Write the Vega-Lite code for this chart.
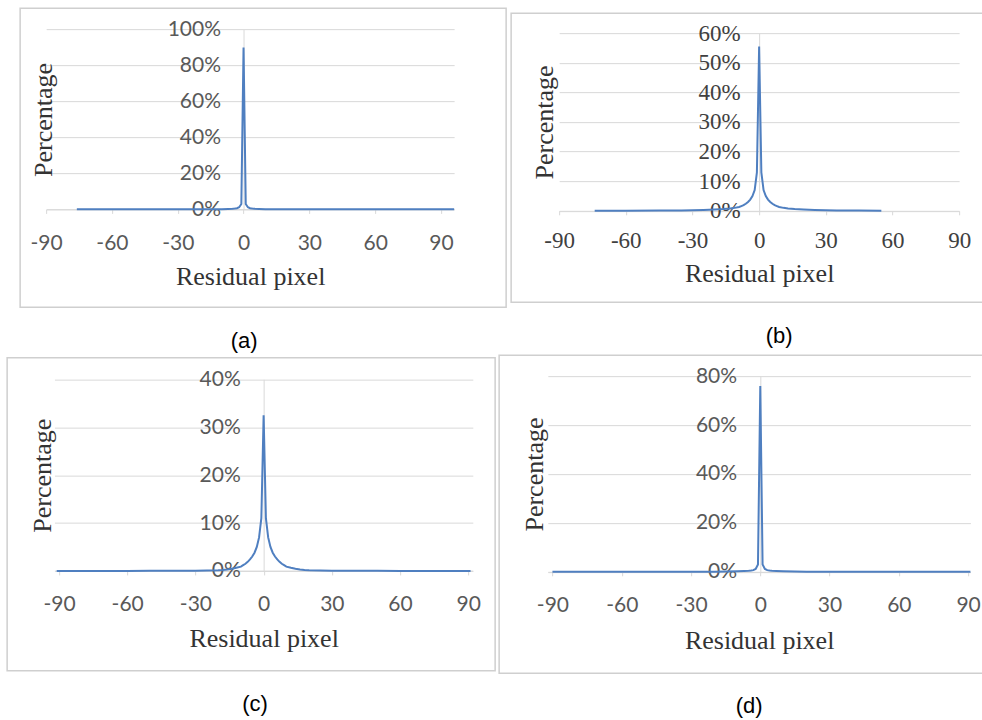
{
  "$schema": "https://vega.github.io/schema/vega-lite/v6.json",
  "background": "white",
  "padding": {"left": 6, "top": 7, "right": -11, "bottom": 0},
  "config": {
    "view": {"stroke": "#cfcfcf", "strokeWidth": 1.5},
    "axis": {"titleFontWeight": "normal", "titleColor": "#333333", "titleFont": "Liberation Serif", "titleFontSize": 26, "domainColor": "#d9d9d9", "gridColor": "#d9d9d9", "tickColor": "#d9d9d9", "labelFlush": false},
    "title": {"font": "Liberation Sans", "fontSize": 22, "fontWeight": "normal", "color": "#000000", "orient": "bottom", "anchor": "middle"},
    "line": {"color": "#4f7fc0", "strokeWidth": 2}
  },
  "datasets": {
    "a": [
      {"x": -76, "p": 0.0005}, {"x": -60, "p": 0.0005}, {"x": -45, "p": 0.0005}, {"x": -30, "p": 0.0006},
      {"x": -20, "p": 0.0008}, {"x": -15, "p": 0.001}, {"x": -10, "p": 0.0015}, {"x": -7, "p": 0.0025},
      {"x": -5, "p": 0.0035}, {"x": -4, "p": 0.005}, {"x": -3, "p": 0.007}, {"x": -2, "p": 0.012},
      {"x": -1, "p": 0.03}, {"x": 0, "p": 0.9}, {"x": 1, "p": 0.03}, {"x": 2, "p": 0.012},
      {"x": 3, "p": 0.007}, {"x": 4, "p": 0.005}, {"x": 5, "p": 0.0035}, {"x": 7, "p": 0.0025},
      {"x": 10, "p": 0.0015}, {"x": 15, "p": 0.001}, {"x": 20, "p": 0.0008}, {"x": 30, "p": 0.0006},
      {"x": 45, "p": 0.0005}, {"x": 60, "p": 0.0005}, {"x": 75, "p": 0.0005}, {"x": 96, "p": 0.0005}
    ],
    "b": [
      {"x": -74, "p": 0.0005}, {"x": -60, "p": 0.0006}, {"x": -45, "p": 0.001}, {"x": -35, "p": 0.0015},
      {"x": -30, "p": 0.002}, {"x": -25, "p": 0.003}, {"x": -20, "p": 0.0045}, {"x": -16, "p": 0.006},
      {"x": -13, "p": 0.008}, {"x": -11, "p": 0.01}, {"x": -9, "p": 0.013}, {"x": -8, "p": 0.016},
      {"x": -7, "p": 0.019}, {"x": -6, "p": 0.024}, {"x": -5, "p": 0.03}, {"x": -4, "p": 0.038},
      {"x": -3, "p": 0.05}, {"x": -2, "p": 0.07}, {"x": -1, "p": 0.13}, {"x": 0, "p": 0.555},
      {"x": 1, "p": 0.13}, {"x": 2, "p": 0.07}, {"x": 3, "p": 0.05}, {"x": 4, "p": 0.038},
      {"x": 5, "p": 0.03}, {"x": 6, "p": 0.024}, {"x": 7, "p": 0.019}, {"x": 8, "p": 0.016},
      {"x": 9, "p": 0.013}, {"x": 11, "p": 0.01}, {"x": 13, "p": 0.008}, {"x": 16, "p": 0.006},
      {"x": 20, "p": 0.0045}, {"x": 25, "p": 0.003}, {"x": 30, "p": 0.002}, {"x": 35, "p": 0.0015},
      {"x": 45, "p": 0.001}, {"x": 55, "p": 0.0006}
    ],
    "c": [
      {"x": -91, "p": 0.0001}, {"x": -75, "p": 0.0001}, {"x": -60, "p": 0.0001}, {"x": -50, "p": 0.00015},
      {"x": -40, "p": 0.0002}, {"x": -30, "p": 0.0004}, {"x": -25, "p": 0.0008}, {"x": -20, "p": 0.0015},
      {"x": -18, "p": 0.002}, {"x": -16, "p": 0.003}, {"x": -14, "p": 0.0045}, {"x": -12, "p": 0.0065},
      {"x": -10, "p": 0.009}, {"x": -9, "p": 0.012}, {"x": -8, "p": 0.015}, {"x": -7, "p": 0.019},
      {"x": -6, "p": 0.024}, {"x": -5, "p": 0.03}, {"x": -4, "p": 0.038}, {"x": -3, "p": 0.05},
      {"x": -2, "p": 0.07}, {"x": -1, "p": 0.11}, {"x": 0, "p": 0.325}, {"x": 1, "p": 0.11},
      {"x": 2, "p": 0.07}, {"x": 3, "p": 0.05}, {"x": 4, "p": 0.038}, {"x": 5, "p": 0.03},
      {"x": 6, "p": 0.024}, {"x": 7, "p": 0.019}, {"x": 8, "p": 0.015}, {"x": 9, "p": 0.012},
      {"x": 10, "p": 0.009}, {"x": 12, "p": 0.0065}, {"x": 14, "p": 0.0045}, {"x": 16, "p": 0.003},
      {"x": 18, "p": 0.002}, {"x": 20, "p": 0.0015}, {"x": 25, "p": 0.0008}, {"x": 30, "p": 0.0004},
      {"x": 40, "p": 0.0002}, {"x": 50, "p": 0.00015}, {"x": 60, "p": 0.0001}, {"x": 75, "p": 0.0001},
      {"x": 91, "p": 0.0001}
    ],
    "d": [
      {"x": -90, "p": 0.0002}, {"x": -75, "p": 0.0002}, {"x": -60, "p": 0.0003}, {"x": -45, "p": 0.0004},
      {"x": -30, "p": 0.0005}, {"x": -20, "p": 0.0008}, {"x": -15, "p": 0.0012}, {"x": -10, "p": 0.002},
      {"x": -7, "p": 0.003}, {"x": -5, "p": 0.004}, {"x": -4, "p": 0.005}, {"x": -3, "p": 0.007},
      {"x": -2, "p": 0.012}, {"x": -1, "p": 0.03}, {"x": 0, "p": 0.76}, {"x": 1, "p": 0.03},
      {"x": 2, "p": 0.012}, {"x": 3, "p": 0.007}, {"x": 4, "p": 0.005}, {"x": 5, "p": 0.004},
      {"x": 7, "p": 0.003}, {"x": 10, "p": 0.002}, {"x": 15, "p": 0.0012}, {"x": 20, "p": 0.0008},
      {"x": 30, "p": 0.0005}, {"x": 45, "p": 0.0004}, {"x": 60, "p": 0.0003}, {"x": 75, "p": 0.0002},
      {"x": 91, "p": 0.0002}
    ]
  },
  "vconcat": [
    {
      "hconcat": [
        {
          "width": 486, "height": 299,
          "title": {"text": "(a)", "offset": 24, "dx": -19},
          "data": {"name": "a"},
          "mark": {"type": "line"},
          "encoding": {
            "x": {"field": "x", "type": "quantitative",
              "scale": {"domain": [-90, 96], "range": [26, 434], "nice": false, "zero": false},
              "axis": {"values": [-90, -60, -30, 0, 30, 60, 90], "labelExpr": "datum.value < 0 ? '-' + abs(datum.value) : '' + datum.value", "offset": -97.7, "grid": false, "tickSize": 4,
                "labelPadding": 36, "labelBaseline": "alphabetic", "labelFont": "Lato", "labelFontSize": 21, "labelColor": "#595959",
                "title": "Residual pixel", "titleY": 75, "titleBaseline": "alphabetic"}},
            "y": {"field": "p", "type": "quantitative",
              "scale": {"domain": [0, 1], "range": [201.3, 21.3], "nice": false},
              "axis": {"values": [0, 0.2, 0.4, 0.6, 0.8, 1], "format": ".0%", "offset": -223.4, "grid": true, "ticks": false, "tickSize": 0,
                "labelPadding": 23, "labelFont": "Lato", "labelFontSize": 21, "labelColor": "#595959",
                "title": "Percentage", "titleX": -200.4, "titleY": 111.3, "titleAngle": -90, "titleBaseline": "middle", "titleAlign": "center"}}
          }
        },
        {
          "width": 472, "height": 289,
          "title": {"text": "(b)", "offset": 24, "dx": 32},
          "data": {"name": "b"},
          "mark": {"type": "line"},
          "encoding": {
            "x": {"field": "x", "type": "quantitative",
              "scale": {"domain": [-90, 90], "range": [48, 448], "nice": false, "zero": false},
              "axis": {"values": [-90, -60, -30, 0, 30, 60, 90], "labelExpr": "datum.value < 0 ? '-' + abs(datum.value) : '' + datum.value", "offset": -91.3, "grid": false, "tickSize": 4,
                "labelPadding": 32.6, "labelBaseline": "alphabetic", "labelFont": "Liberation Serif", "labelFontSize": 23, "labelColor": "#404040",
                "title": "Residual pixel", "titleY": 70.6, "titleBaseline": "alphabetic"}},
            "y": {"field": "p", "type": "quantitative",
              "scale": {"domain": [0, 0.6], "range": [197.7, 20], "nice": false},
              "axis": {"values": [0, 0.1, 0.2, 0.3, 0.4, 0.5, 0.6], "format": ".0%", "offset": -248, "grid": true, "ticks": false, "tickSize": 0,
                "labelPadding": 19, "labelFont": "Liberation Serif", "labelFontSize": 23, "labelColor": "#404040",
                "title": "Percentage", "titleX": -215, "titleY": 108.8, "titleAngle": -90, "titleBaseline": "middle", "titleAlign": "center"}}
          }
        }
      ],
      "spacing": 3,
      "center": true
    },
    {
      "hconcat": [
        {
          "width": 488, "height": 313,
          "title": {"text": "(c)", "offset": 23, "dx": 4},
          "data": {"name": "c"},
          "mark": {"type": "line"},
          "encoding": {
            "x": {"field": "x", "type": "quantitative",
              "scale": {"domain": [-92, 92], "range": [47.3, 465.7], "nice": false, "zero": false},
              "axis": {"values": [-90, -60, -30, 0, 30, 60, 90], "labelExpr": "datum.value < 0 ? '-' + abs(datum.value) : '' + datum.value", "offset": -99.7, "grid": false, "tickSize": 4,
                "labelPadding": 35.4, "labelBaseline": "alphabetic", "labelFont": "Lato", "labelFontSize": 21, "labelColor": "#595959",
                "title": "Residual pixel", "titleY": 76, "titleBaseline": "alphabetic"}},
            "y": {"field": "p", "type": "quantitative",
              "scale": {"domain": [0, 0.4], "range": [213.3, 21.7], "nice": false},
              "axis": {"values": [0, 0.1, 0.2, 0.3, 0.4], "format": ".0%", "offset": -256.5, "grid": true, "ticks": false, "tickSize": 0,
                "labelPadding": 23.4, "labelFont": "Lato", "labelFontSize": 21, "labelColor": "#595959",
                "title": "Percentage", "titleX": -220.8, "titleY": 117.5, "titleAngle": -90, "titleBaseline": "middle", "titleAlign": "center"}}
          }
        },
        {
          "width": 497, "height": 318,
          "title": {"text": "(d)", "offset": 23, "dx": 1.5},
          "data": {"name": "d"},
          "mark": {"type": "line"},
          "encoding": {
            "x": {"field": "x", "type": "quantitative",
              "scale": {"domain": [-92, 91], "range": [48.7, 471.3], "nice": false, "zero": false},
              "axis": {"values": [-90, -60, -30, 0, 30, 60, 90], "labelExpr": "datum.value < 0 ? '-' + abs(datum.value) : '' + datum.value", "offset": -101.3, "grid": false, "tickSize": 4,
                "labelPadding": 36, "labelBaseline": "alphabetic", "labelFont": "Lato", "labelFontSize": 21, "labelColor": "#595959",
                "title": "Residual pixel", "titleY": 76.6, "titleBaseline": "alphabetic"}},
            "y": {"field": "p", "type": "quantitative",
              "scale": {"domain": [0, 0.8], "range": [216.7, 21], "nice": false},
              "axis": {"values": [0, 0.2, 0.4, 0.6, 0.8], "format": ".0%", "offset": -261.2, "grid": true, "ticks": false, "tickSize": 0,
                "labelPadding": 23.7, "labelFont": "Lato", "labelFontSize": 21, "labelColor": "#595959",
                "title": "Percentage", "titleX": -225.5, "titleY": 118.9, "titleAngle": -90, "titleBaseline": "middle", "titleAlign": "center"}}
          }
        }
      ],
      "spacing": 2,
      "center": true
    }
  ],
  "spacing": 1,
  "center": true
}
